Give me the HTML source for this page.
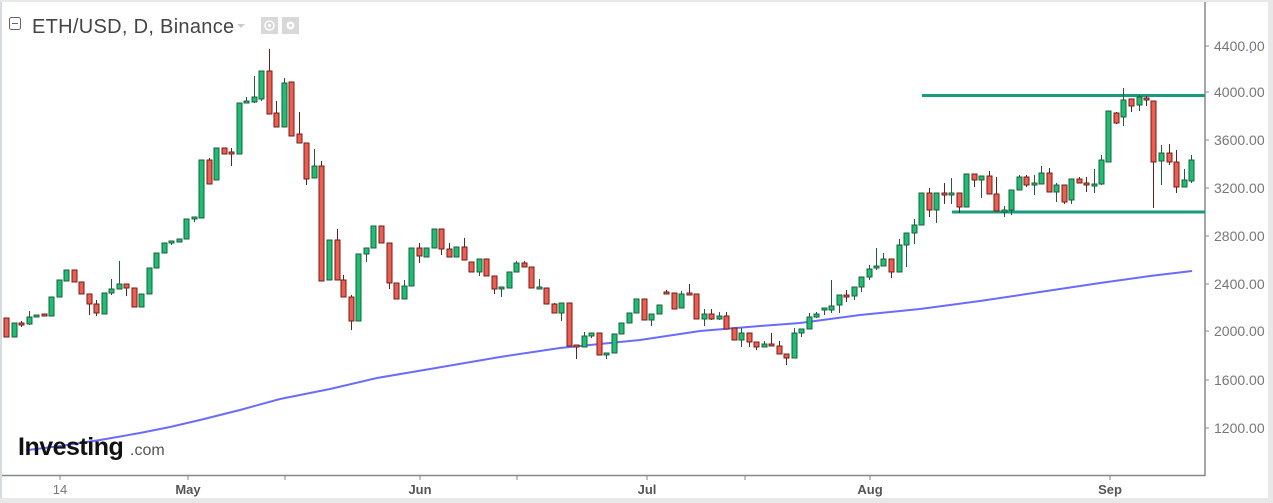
<!DOCTYPE html>
<html><head><meta charset="utf-8"><style>
html,body{margin:0;padding:0;background:#fff;}
body{width:1273px;height:503px;overflow:hidden;position:relative;font-family:"Liberation Sans",sans-serif;}
</style></head><body>
<svg id="s" width="1273" height="503" xmlns="http://www.w3.org/2000/svg" style="position:absolute;left:0;top:0">
<rect x="0" y="0" width="1273" height="503" fill="#fff"/>
<rect x="0" y="0" width="2" height="503" fill="#d6dbe0"/>
<rect x="0" y="0" width="1273" height="2" fill="#e6e9ec"/>
<rect x="0" y="498" width="1273" height="5" fill="#e8e8e8"/>
<rect x="1268" y="0" width="5" height="503" fill="#e8e8e8"/>
<line x1="1205" y1="2" x2="1205" y2="476" stroke="#888" stroke-width="1.5"/>
<line x1="2" y1="475.5" x2="1205" y2="475.5" stroke="#888" stroke-width="1.5"/>
<g stroke="#888" stroke-width="1">
<line x1="1205" y1="46" x2="1209" y2="46"/><line x1="1205" y1="92" x2="1209" y2="92"/>
<line x1="1205" y1="140" x2="1209" y2="140"/><line x1="1205" y1="188" x2="1209" y2="188"/>
<line x1="1205" y1="236" x2="1209" y2="236"/><line x1="1205" y1="284" x2="1209" y2="284"/>
<line x1="1205" y1="331" x2="1209" y2="331"/><line x1="1205" y1="380" x2="1209" y2="380"/>
<line x1="1205" y1="428" x2="1209" y2="428"/>
<line x1="60" y1="476" x2="60" y2="480"/><line x1="188" y1="476" x2="188" y2="480"/>
<line x1="285" y1="476" x2="285" y2="480"/><line x1="420" y1="476" x2="420" y2="480"/>
<line x1="517" y1="476" x2="517" y2="480"/><line x1="647" y1="476" x2="647" y2="480"/>
<line x1="745" y1="476" x2="745" y2="480"/><line x1="870" y1="476" x2="870" y2="480"/>
<line x1="1110" y1="476" x2="1110" y2="480"/>
</g>
<g font-family="Liberation Sans, sans-serif" font-size="14" fill="#777">
<text x="1214" y="51">4400.00</text><text x="1214" y="97">4000.00</text>
<text x="1214" y="145">3600.00</text><text x="1214" y="193">3200.00</text>
<text x="1214" y="241">2800.00</text><text x="1214" y="289">2400.00</text>
<text x="1214" y="336">2000.00</text><text x="1214" y="385">1600.00</text>
<text x="1214" y="433">1200.00</text>
</g>
<circle cx="1251" cy="52" r="0.8" fill="#33f"/>
<g font-family="Liberation Sans, sans-serif" font-size="13" fill="#555" text-anchor="middle">
<text x="60" y="494" fill="#777">14</text>
<text x="188" y="494" font-weight="bold">May</text>
<text x="420" y="494" font-weight="bold">Jun</text>
<text x="647" y="494" font-weight="bold">Jul</text>
<text x="870" y="494" font-weight="bold">Aug</text>
<text x="1110" y="494" font-weight="bold">Sep</text>
</g>
<polyline fill="none" stroke="#6b6bff" stroke-width="2" points="28,450 60,446 100,440 140,433 170,427 200,420 240,410 280,399 330,389 377,378 430,369 500,357 560,348 640,340 700,331 760,326 800,323 860,315 920,309 980,301 1040,292 1100,283 1150,276 1192,271"/>
<line x1="922" y1="95.5" x2="1205" y2="95.5" stroke="#1a9a7e" stroke-width="3"/>
<line x1="952" y1="212" x2="1205" y2="212" stroke="#1a9a7e" stroke-width="3"/>
<g id="c"></g>
<text x="18" y="455" font-family="Liberation Sans, sans-serif" font-size="25" font-weight="bold" fill="#111" letter-spacing="-0.5">Investing</text>
<text x="130" y="455" font-family="Liberation Sans, sans-serif" font-size="16" fill="#555">.com</text>
<rect x="9.5" y="17.5" width="11" height="12" rx="2" fill="none" stroke="#666" stroke-width="1"/>
<line x1="12" y1="23.5" x2="18" y2="23.5" stroke="#666"/>
<text x="32" y="33" font-family="Liberation Sans, sans-serif" font-size="20" fill="#444" letter-spacing="0.3">ETH/USD, D, Binance</text>
<path d="M237,24 L245,24 L241,28 Z" fill="#ccc"/>
<rect x="261" y="17" width="17" height="17" fill="#d8d8d8"/>
<circle cx="269.5" cy="25.5" r="4.5" fill="none" stroke="#fff" stroke-width="1.5"/>
<circle cx="269.5" cy="25.5" r="1.5" fill="#fff"/>
<rect x="282" y="17" width="17" height="17" fill="#d8d8d8"/>
<circle cx="290.5" cy="25.5" r="4" fill="#fff"/>
<circle cx="290.5" cy="25.5" r="1.6" fill="#d8d8d8"/>
</svg>
<script>
var d=[
[6,318,337,'r'],[14,323,337,'g'],[21,323,325,'r',321,327],[29,317,324,'g',311,325],[36,315,317,'g'],[44,314,316,'r'],[51,297,316,'g'],[59,280,297,'g'],[66,270,281,'g'],[74,270,282,'r'],[81,282,294,'r'],[89,294,304,'r',294,315],[96,304,313,'r',300,316],[104,293,314,'g'],[111,289,293,'g',279,295],[119,284,289,'g',261,289],[126,284,288,'r',284,296],[134,288,307,'r'],[141,294,307,'g'],[149,268,294,'g'],[156,253,268,'g'],[164,243,253,'g'],[171,241,243,'g',241,245],[179,239,242,'g'],[186,219,239,'g'],[194,217,219,'g',217,222],[201,160,218,'g'],[209,160,184,'r',158,184],[216,148,180,'g'],[224,148,154,'r'],[231,152,154,'r',148,166],[239,103,154,'g'],[246,101,103,'g',97,103],[254,97,102,'g',76,103],[261,71,99,'g',71,101],[269,71,114,'r',49,114],[276,113,127,'r',101,127],[284,83,127,'g',78,127],[291,82,136,'r'],[299,134,143,'r',112,143],[306,143,179,'r',143,185],[314,166,178,'g',149,178],[321,166,281,'r',161,281],[329,240,280,'g'],[337,240,280,'r',229,280],[343,280,297,'r',275,297],[351,297,321,'r',295,330],[358,254,321,'g'],[366,248,254,'g',248,262],[373,226,248,'g'],[381,226,243,'r'],[389,243,283,'r',243,289],[396,283,299,'r'],[404,286,299,'g',280,299],[411,248,286,'g'],[419,248,256,'r',243,263],[426,248,257,'g'],[434,229,248,'g'],[441,229,249,'r',229,255],[449,249,257,'r',243,257],[456,247,257,'g'],[464,247,260,'r',238,260],[471,262,272,'r'],[479,259,272,'g',259,276],[486,259,276,'r'],[494,276,289,'r',276,294],[501,287,289,'g',287,297],[509,272,288,'g'],[516,263,272,'g',261,272],[524,263,267,'r',261,267],[531,267,288,'r'],[539,287,289,'g',279,289],[546,288,304,'r'],[554,304,313,'r',303,313],[561,303,313,'g',303,321],[569,303,346,'r'],[576,345,347,'r',345,359],[584,336,347,'g',332,347],[591,333,336,'g',333,338],[599,333,355,'r'],[606,353,355,'g',353,359],[614,334,353,'g'],[621,323,334,'g'],[629,313,323,'g'],[636,299,313,'g'],[644,299,320,'r'],[651,314,320,'g',314,326],[659,305,314,'g'],[666,292,294,'r',290,294],[674,293,309,'r'],[681,294,308,'g',291,308],[689,293,295,'r',284,295],[696,294,319,'r'],[704,314,319,'g',309,326],[711,314,319,'r',309,320],[719,316,319,'g',312,320],[726,316,329,'r',312,329],[734,328,340,'r'],[741,333,340,'g',328,347],[749,333,342,'r',333,347],[756,342,347,'r',342,350],[764,344,347,'g',341,347],[771,344,346,'r',333,346],[779,346,354,'r',341,354],[786,354,358,'r',354,365],[794,333,358,'g',328,358],[801,329,333,'g',329,337],[809,317,329,'g',313,329],[816,314,317,'g',312,318],[824,308,310,'g',308,315],[831,306,310,'g',280,313],[839,295,305,'g',295,313],[846,295,297,'r',290,302],[854,287,296,'g',287,300],[861,277,287,'g',277,292],[869,269,277,'g',265,280],[876,266,268,'g',248,270],[883,259,266,'g',253,266],[891,259,272,'r',259,278],[899,245,272,'g',239,272],[906,233,245,'g',233,267],[914,225,233,'g',219,244],[921,193,225,'g'],[929,193,210,'r',188,217],[936,193,210,'g',193,223],[944,193,195,'r',183,204],[951,193,195,'g',178,204],[959,193,207,'r',193,213],[966,174,207,'g'],[974,174,180,'r',174,187],[981,176,180,'g',176,198],[989,176,194,'r',171,194],[996,194,211,'r',177,211],[1004,210,212,'g',206,217],[1011,190,210,'g',190,215],[1019,177,190,'g',175,190],[1026,177,185,'r',175,187],[1034,183,185,'g',175,195],[1041,173,184,'g',166,184],[1049,173,192,'r',168,192],[1056,185,192,'g',183,202],[1064,185,202,'r',185,204],[1071,179,200,'g',179,204],[1079,179,183,'r',177,183],[1086,183,185,'r',177,192],[1094,184,186,'g',169,193],[1101,160,184,'g',155,185],[1108,111,162,'g'],[1116,113,123,'r',112,124],[1123,100,117,'g',88,126],[1131,99,106,'r',99,112],[1139,97,105,'g',95,111],[1146,98,100,'r',96,106],[1153,101,162,'r',101,208],[1161,153,161,'g',145,185],[1169,153,162,'r',144,165],[1176,162,187,'r',150,193],[1184,180,187,'g',169,187],[1191,160,181,'g',155,183]];
var s='';
d.forEach(function(c){var x=c[0],t=c[1],b=c[2],g=c[3]=='g',h=c.length>4?c[4]:t,l=c.length>4?c[5]:b;
var st=g?'#1e5e3e':'#6b1f1a';
s+='<line x1="'+(x+0.5)+'" y1="'+h+'" x2="'+(x+0.5)+'" y2="'+l+'" stroke="'+st+'" stroke-width="1"/>';
s+='<rect x="'+(x-2)+'" y="'+t+'" width="5" height="'+Math.max(1,b-t)+'" fill="'+(g?'#15c373':'#f65a4d')+'" stroke="'+st+'" stroke-width="1"/>';});
document.getElementById('c').innerHTML=s;
</script>
</body></html>
